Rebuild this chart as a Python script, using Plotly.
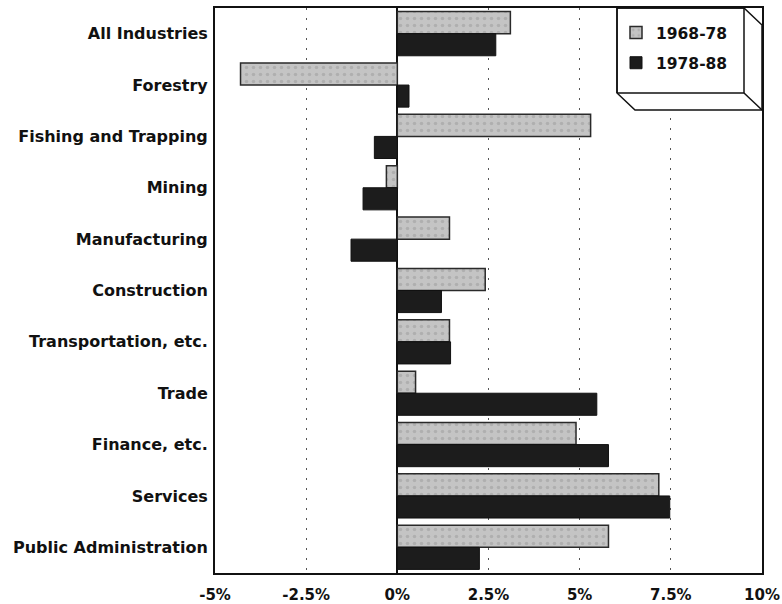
import plotly.graph_objects as go

categories = ["All Industries", "Forestry", "Fishing and Trapping", "Mining",
              "Manufacturing", "Construction", "Transportation, etc.", "Trade",
              "Finance, etc.", "Services", "Public Administration"]
growth_1968_78 = [3.1, -4.3, 5.3, -0.3, 1.43, 2.41, 1.43, 0.5, 4.9, 7.17, 5.79]
growth_1978_88 = [2.7, 0.32, -0.63, -0.94, -1.27, 1.21, 1.46, 5.47, 5.79, 7.47, 2.25]
series_names = ["1968-78", "1978-88"]
x_tick_vals = [-5, -2.5, 0, 2.5, 5, 7.5, 10]
x_tick_text = ["-5%", "-2.5%", "0%", "2.5%", "5%", "7.5%", "10%"]

FONT = "DejaVu Sans"

fig = go.Figure()
fig.add_trace(go.Bar(
    y=categories, x=growth_1968_78, orientation="h", name=series_names[0],
    legendgroup="a",
    marker=dict(color="#c4c4c4", line=dict(color="#2a2a2a", width=1.5),
                pattern=dict(shape=".", fgcolor="#999999", bgcolor="#c4c4c4",
                             size=7, solidity=0.2)),
))
fig.add_trace(go.Bar(
    y=categories, x=growth_1978_88, orientation="h", name=series_names[1],
    legendgroup="b",
    marker=dict(color="#1c1c1c", line=dict(color="#111111", width=1)),
))

W, H = 782, 604
L, R, T, B = 215, 20, 8, 31
pw, ph = W - L - R, H - T - B

def px(X):
    return (X - L) / pw

def py(Y):
    return (H - B - Y) / ph

shapes = []
path = (f"M {px(617)},{py(8)} L {px(744)},{py(8)} L {px(762)},{py(25)} "
        f"L {px(762)},{py(110)} L {px(635)},{py(110)} L {px(617)},{py(93)} Z")
shapes.append(dict(type="path", path=path, xref="paper", yref="paper",
                   fillcolor="white", line=dict(color="#111111", width=1.5), layer="above"))
for (x0, y0, x1, y1) in [(617, 8, 744, 8), (744, 8, 744, 93), (617, 93, 744, 93),
                         (617, 8, 617, 93), (744, 93, 762, 110)]:
    shapes.append(dict(type="line", xref="paper", yref="paper",
                       x0=px(x0), y0=py(y0), x1=px(x1), y1=py(y1),
                       line=dict(color="#111111", width=1.5), layer="above"))

fig.update_layout(
    width=W, height=H,
    margin=dict(l=L, r=R, t=T, b=B, autoexpand=False),
    paper_bgcolor="white", plot_bgcolor="white",
    barmode="group", bargap=0.14, bargroupgap=0.0,
    font=dict(family=FONT, size=14, color="#111111"),
    shapes=shapes,
    showlegend=True,
    legend=dict(x=px(616), y=py(16), xanchor="left", yanchor="top",
                bgcolor="rgba(0,0,0,0)", borderwidth=0,
                font=dict(family=FONT, size=15.5, color="#111111", weight="bold"),
                traceorder="grouped", tracegroupgap=7,
                itemwidth=30),
    xaxis=dict(range=[-5, 10], tickvals=x_tick_vals, ticktext=x_tick_text,
               showgrid=True, gridcolor="#555555", griddash="2px,8px", gridwidth=1,
               zeroline=True, zerolinecolor="#111111", zerolinewidth=1.5,
               showline=True, linecolor="#111111", linewidth=2, mirror=True,
               ticks="", tickfont=dict(family=FONT, size=15, weight="bold"),
               ticklabelstandoff=7, fixedrange=True),
    yaxis=dict(autorange="reversed", showgrid=False, ticks="",
               showline=True, linecolor="#111111", linewidth=2, mirror=True,
               tickfont=dict(family=FONT, size=16, weight="bold"), ticklabelstandoff=2,
               fixedrange=True),
)

fig.write_html("out.html",
               config={"displayModeBar": False},
               post_script="document.body.style.margin='0';document.body.style.overflow='hidden';")
